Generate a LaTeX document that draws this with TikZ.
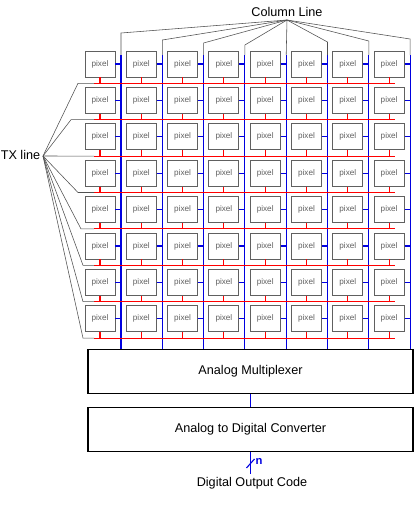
\documentclass[tikz,border=0pt]{standalone}
\usepackage{fontspec}
\setmainfont{Liberation Sans}
\usetikzlibrary{positioning, calc}
\definecolor{pxgray}{HTML}{606060}
\definecolor{txred}{HTML}{FF0000}
\definecolor{colblue}{HTML}{0000E0}
\definecolor{leadgray}{HTML}{505050}

\begin{document}
\begin{tikzpicture}[x=0.025cm, y=-0.025cm, font=\fontsize{9}{10}\selectfont,
    pix/.style={draw=pxgray, line width=0.6pt, fill=white, minimum width=0.75cm,
                minimum height=0.65cm, inner sep=0pt, text=pxgray,
                font=\fontsize{5.8}{6}\selectfont},
    blk/.style={draw=black, line width=0.9pt, minimum width=8.12cm, minimum height=1.1cm},
    col/.style={colblue, line width=0.8pt},
    tx/.style={txred, line width=0.8pt},
    lead/.style={leadgray, line width=0.4pt}]
    \useasboundingbox (0,0) rectangle (415,507);
    % pixel array
    \foreach \r in {1,...,8}
      \foreach \c in {1,...,8}
        \node[pix] (p\r\c) at ({100+41.3*(\c-1)}, {64+36.4*(\r-1)}) {pixel};
    \foreach \c in {1,...,8}
      \coordinate (ct\c) at ({121+41.3*(\c-1)}, 55);
    \foreach \r in {1,...,8} {
      \coordinate (tl\r) at (94, {83.3+36.4*(\r-1)});
      \coordinate (tr\r) at (395, {83.3+36.4*(\r-1)});
    }
    \node[blk] (mux) at (250.5,371.7) {Analog Multiplexer};
    \node[blk] (adc) at (250.5,429.3) {Analog to Digital Converter};
    % column and TX lines
    \foreach \c in {1,...,8}
      \draw[col] (ct\c) -- (ct\c |- mux.north);
    \foreach \r in {1,...,8} {
      \draw[tx] (tl\r) -- (tr\r);
      \foreach \c in {1,...,8} {
        \draw[tx] (p\r\c.south) -- (p\r\c.south |- tl\r);
        \draw[col] (p\r\c.east) -- (p\r\c.east -| ct\c);
      }
    }
    % labels and leads
    \node (collbl) at (287,12) {Column Line};
    \coordinate (cj) at (287,20);
    \foreach \c/\h in {1/33,2/40,3/43,4/45,6/42,7/41,8/39}
      \draw[lead] (ct\c) -- ++(0,{\h-55}) -- (cj);
    \draw[lead] (ct5) -- (cj);
    \node[anchor=west, inner sep=0pt] (txlbl) at (0.5,155) {TX line};
    \coordinate (tj) at (43,156);
    \foreach \r/\b in {1/78,2/71,4/78,5/81,6/83,7/83,8/83}
      \draw[lead] (tj) -- ($(tl\r)+({\b-94},0)$) -- (tl\r);
    \draw[lead] (tj) -- (tl3);
    % output
    \draw[col] (mux.south) -- (adc.north);
    \coordinate (outend) at (250.5,474);
    \draw[col] (adc.south) -- (outend);
    \draw[col] ($(adc.south)!0.5!(outend)+(-4,5)$) -- ++(8,-9);
    \node[text=colblue, font=\fontsize{8}{9}\selectfont\bfseries] (nlbl) at (259,461) {n};
    \node (outlbl) at (252,483) {Digital Output Code};
\end{tikzpicture}
\end{document}
